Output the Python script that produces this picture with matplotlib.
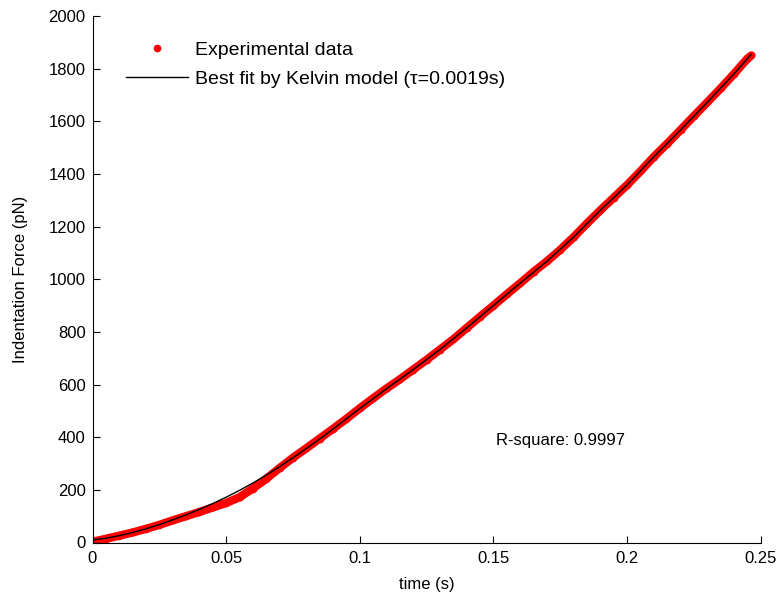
import numpy as np
import matplotlib
matplotlib.use('Agg')
import matplotlib.pyplot as plt

plt.rcParams['font.family'] = ['Liberation Sans', 'DejaVu Sans']

t_exp = [0.000, 0.005, 0.010, 0.015, 0.020, 0.025, 0.030, 0.035, 0.040, 0.045,
         0.050, 0.055, 0.060, 0.065, 0.070, 0.075, 0.080, 0.085, 0.090, 0.095,
         0.100, 0.105, 0.110, 0.115, 0.120, 0.125, 0.130, 0.135, 0.140, 0.145,
         0.150, 0.155, 0.160, 0.165, 0.170, 0.175, 0.180, 0.185, 0.190, 0.195,
         0.200, 0.205, 0.210, 0.215, 0.220, 0.225, 0.230, 0.235, 0.240, 0.245,
         0.2465]
f_exp = [3, 14, 26, 38, 52, 67, 84, 100, 116, 133,
         150, 172, 205, 242, 283, 322, 358, 395, 432, 470,
         510, 548, 585, 620, 657, 694, 733, 772, 815, 858,
         900, 943, 985, 1028, 1068, 1112, 1160, 1212, 1262, 1310,
         1358, 1410, 1465, 1515, 1567, 1620, 1672, 1725, 1780, 1838,
         1850]

# Kelvin model fit
t_fit = [0.000, 0.005, 0.010, 0.015, 0.020, 0.025, 0.030, 0.035, 0.040, 0.045,
         0.050, 0.055, 0.060, 0.065, 0.070, 0.075, 0.080, 0.085, 0.090, 0.095,
         0.100, 0.110, 0.120, 0.130, 0.140, 0.150, 0.160, 0.170, 0.180, 0.190,
         0.200, 0.210, 0.220, 0.230, 0.240, 0.2465]
f_fit = [10, 16, 26, 38, 52, 68, 86, 105, 126, 148,
         172, 198, 226, 256, 288, 322, 357, 393, 431, 470,
         509, 584, 657, 733, 815, 900, 985, 1068, 1160, 1262,
         1358, 1465, 1567, 1672, 1780, 1855]

fig = plt.figure(figsize=(7.84, 6.03), dpi=100)
ax = fig.add_axes([92.5/784, 1 - 542.5/603, 668.2/784, 526.5/603])

ax.plot(t_exp, f_exp, '-', color='red', lw=6, solid_capstyle='round', zorder=1)
ax.plot(t_exp, f_exp, '.', color='red', ms=9, zorder=1, label='Experimental data')
ax.plot(t_fit, f_fit, '-', color='black', lw=1, zorder=2,
        label='Best fit by Kelvin model (\u03c4=0.0019s)')

ax.set_xlim(0, 0.25)
ax.set_ylim(0, 2000)
ax.set_xticks([0, 0.05, 0.1, 0.15, 0.2, 0.25])
ax.set_xticklabels(['0', '0.05', '0.1', '0.15', '0.2', '0.25'])
ax.set_yticks(np.arange(0, 2001, 200))
ax.spines['top'].set_visible(False)
ax.spines['right'].set_visible(False)
ax.tick_params(direction='in', length=5, labelsize=12)
ax.tick_params(axis='x', pad=6)
ax.tick_params(axis='y', pad=5)
ax.set_xlabel('time (s)', fontsize=12)
ax.set_ylabel('Indentation Force (pN)', fontsize=12)
ax.xaxis.set_label_coords(0.5, -0.0655)
ax.yaxis.set_label_coords(-0.0965, 0.5)

ax.text(0.151, 387, 'R-square: 0.9997', fontsize=12, va='center')

ax.legend(loc='upper left', bbox_to_anchor=(0.038, 0.966), frameon=False,
          fontsize=14, handlelength=3.2, handletextpad=0.35, labelspacing=0.56,
          borderaxespad=0.0)

fig.savefig('out.png', dpi=100)
